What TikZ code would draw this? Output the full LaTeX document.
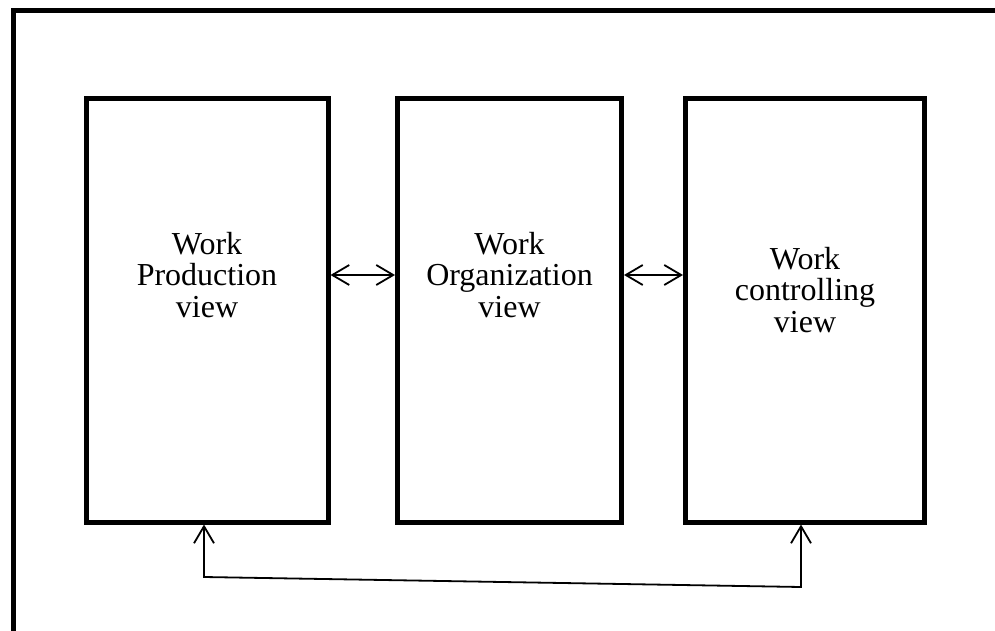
\documentclass[tikz,border=0pt]{standalone}
\usepackage{fontspec}
\setmainfont{Liberation Serif}
\usetikzlibrary{arrows.meta}

\tikzset{
  viewbox/.style={draw=black, line width=5pt, rectangle, inner sep=0pt},
  viewlabel/.style={align=center, font=\fontsize{32}{31.5}\selectfont, inner sep=0pt},
  link/.style={line width=1.8pt, {Straight Barb[length=17pt,width=20pt]}-{Straight Barb[length=17pt,width=20pt]}},
  frameline/.style={line width=5pt}
}

\begin{document}
\begin{tikzpicture}[x=1pt, y=-1pt]
  \useasboundingbox (0,0) rectangle (995,631);

  % outer frame (top and left edges)
  \draw[frameline] (13.5,640) -- (13.5,10.5) -- (1000,10.5);

  % the three views
  \node[viewbox, minimum width=241.5pt, minimum height=423.5pt] (prod) at (207.25,310.25) {};
  \node[viewbox, minimum width=224pt, minimum height=423.5pt] (org) at (509.5,310.25) {};
  \node[viewbox, minimum width=239pt, minimum height=423.5pt] (ctrl) at (805,310.25) {};

  \node[viewlabel] (prodtext) at (207,275) {Work\\Production\\view};
  \node[viewlabel] (orgtext) at (509.5,275) {Work\\Organization\\view};
  \node[viewlabel] (ctrltext) at (805,290) {Work\\controlling\\view};

  % links between neighbouring views
  \coordinate (midlink) at (0,275);
  \draw[link] (prod.east |- midlink) -- (org.west |- midlink);
  \draw[link] (org.east |- midlink) -- (ctrl.west |- midlink);

  % return link below the boxes
  \coordinate (lcorner) at (204,577);
  \coordinate (rcorner) at (801,587);
  \draw[link] (prod.south -| lcorner) -- (lcorner) -- (rcorner) -- (ctrl.south -| rcorner);
\end{tikzpicture}
\end{document}
